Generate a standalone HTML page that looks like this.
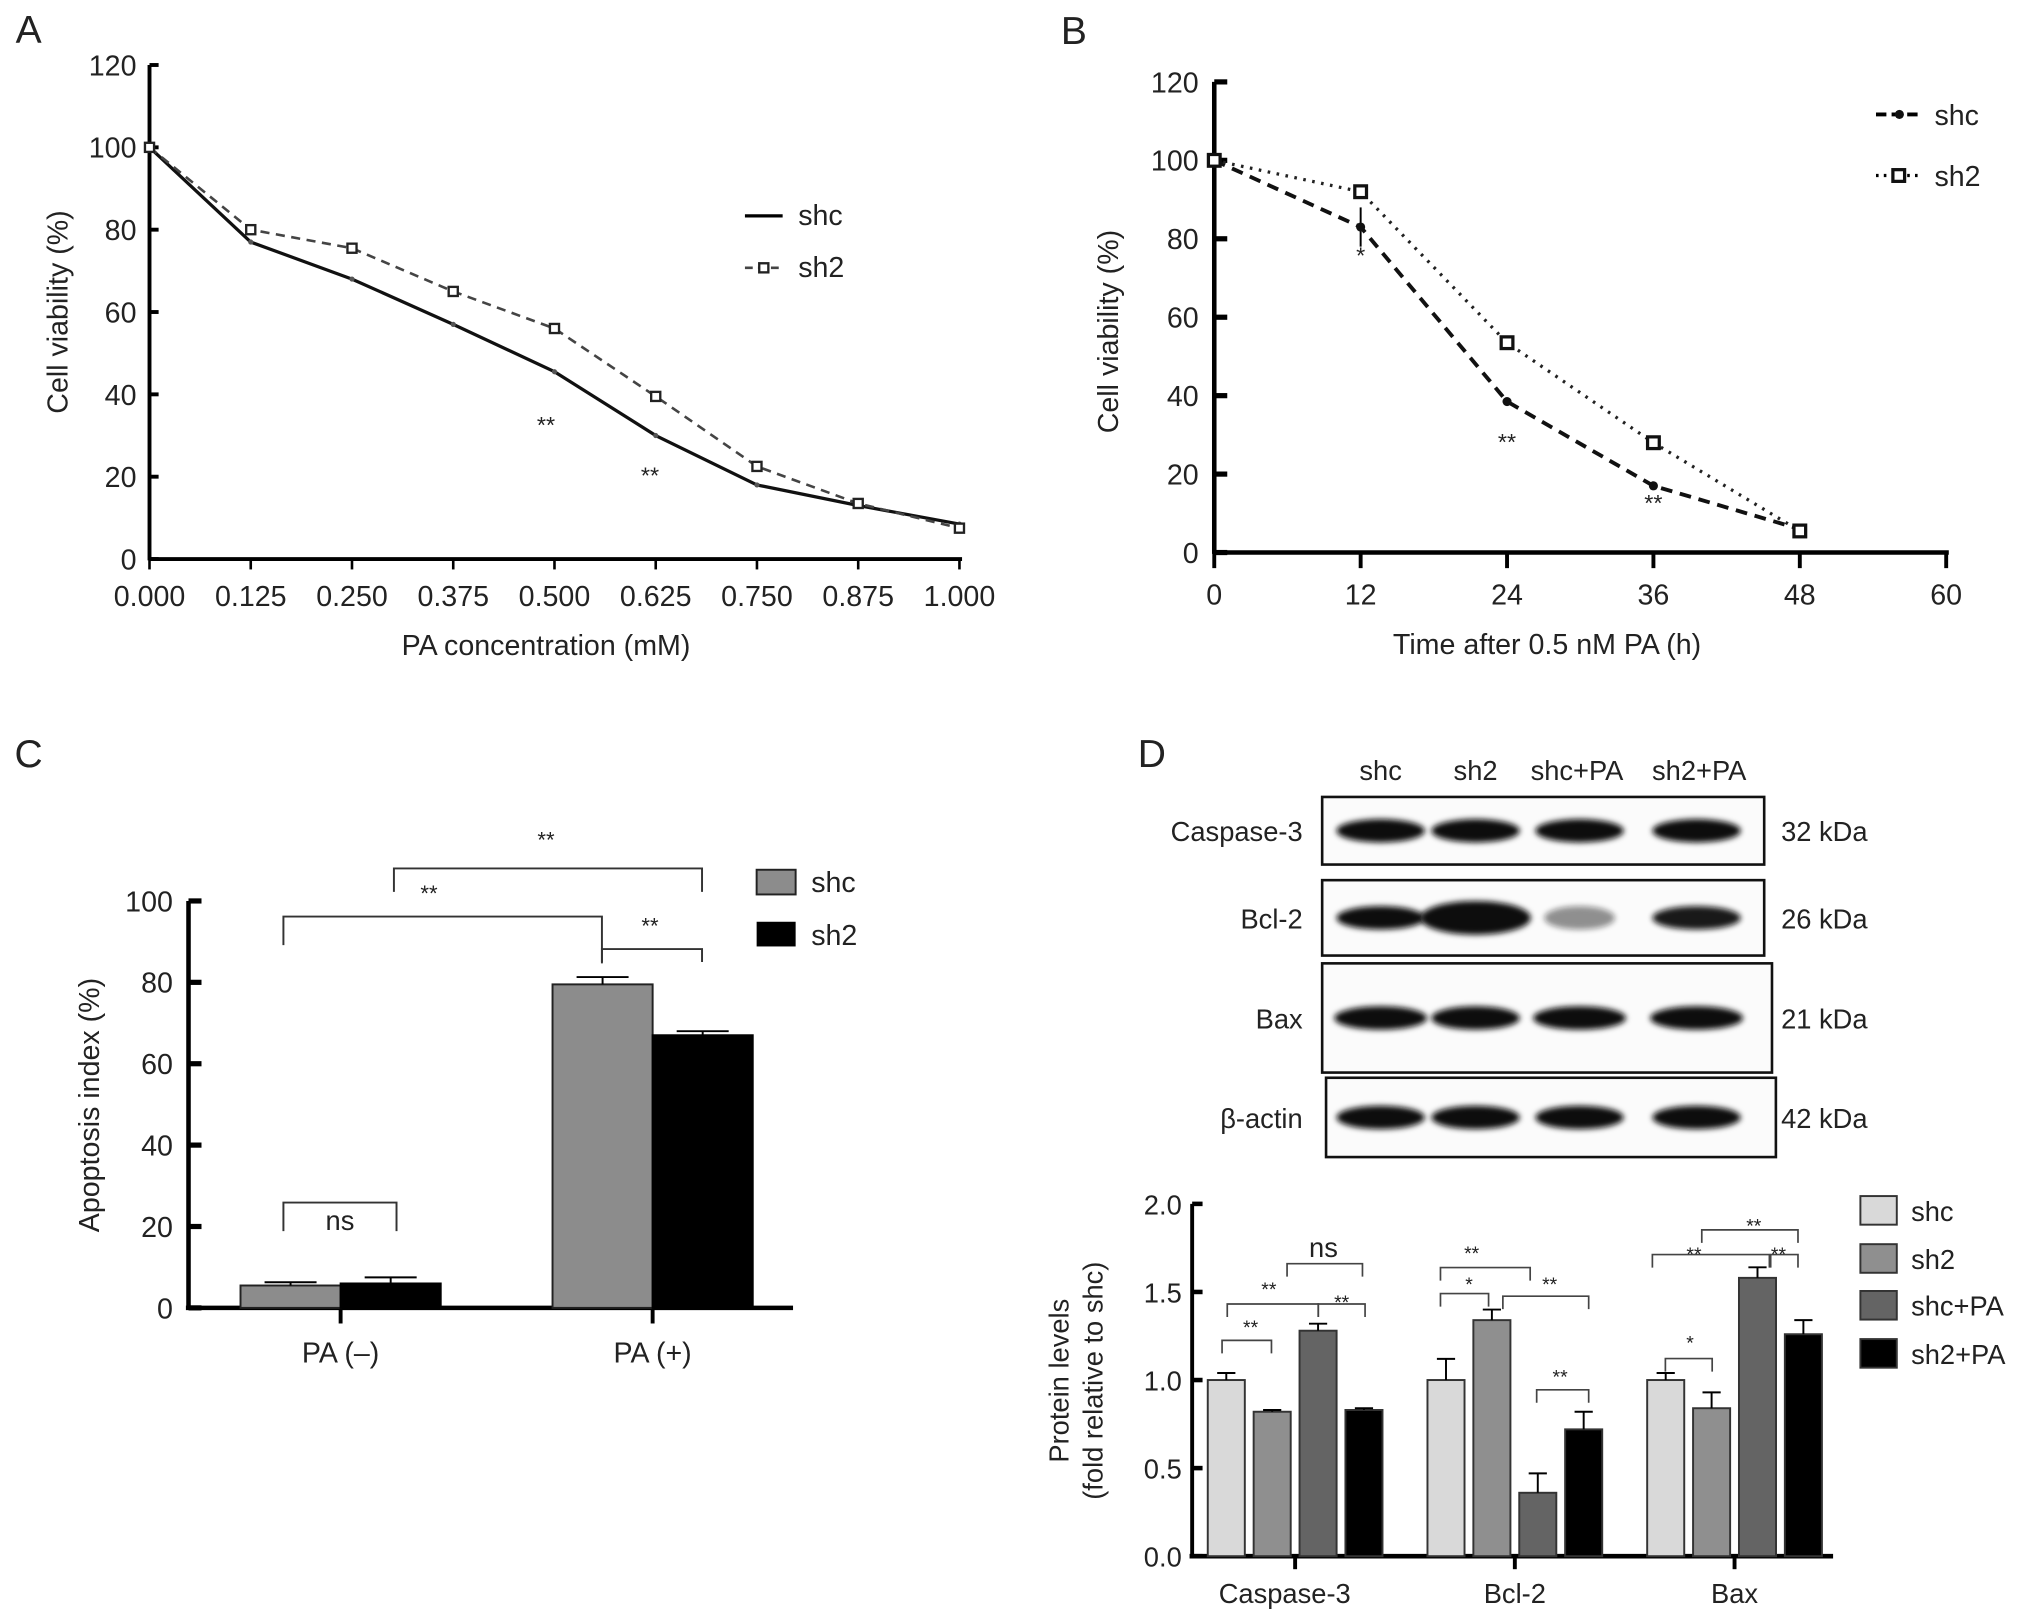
<!DOCTYPE html>
<html><head><meta charset="utf-8"><style>
html,body{margin:0;padding:0;background:#fff}
svg{display:block;font-family:"Liberation Sans",Arial,sans-serif}
</style></head><body>
<svg id="fig" width="2032" height="1616" viewBox="0 0 1563 1243" preserveAspectRatio="none" xmlns="http://www.w3.org/2000/svg">
<defs><filter id="blur" x="-20%" y="-50%" width="140%" height="200%"><feGaussianBlur stdDeviation="2.2"/></filter></defs>
<g id="gA"></g>
<g id="gB"></g>
<g id="gC"></g>
<g id="gD"></g>
</svg>
<script>
// Panel A data
const aX = [0,0.125,0.25,0.375,0.5,0.625,0.75,0.875,1.0];
const aShc = [100,77,68,57,45.5,30,18,13,8.5];
const aSh2 = [100,80,75.5,65,56,39.5,22.5,13.5,7.5];
const aTicksX = ["0.000","0.125","0.250","0.375","0.500","0.625","0.750","0.875","1.000"];
const aTicksY = [0,20,40,60,80,100,120];
// Panel B data
const bX = [0,12,24,36,48];
const bShc = [100,83,38.5,17,6];
const bSh2 = [100,92,53.5,28,5.5];
const bTicksX = [0,12,24,36,48,60];
const bTicksY = [0,20,40,60,80,100,120];
// Panel C data
const cGroups = ["PA (\u2013)","PA (+)"];
const cShc = [5.5,79.5];
const cSh2 = [6,67];
const cErrShc = [0.8,1.8];
const cErrSh2 = [1.5,1];
const cTicksY = [0,20,40,60,80,100];
// Panel D data
const dGroups = ["Caspase-3","Bcl-2","Bax"];
const dSeries = ["shc","sh2","shc+PA","sh2+PA"];
const dShc = [1.0,1.0,1.0];
const dSh2 = [0.82,1.34,0.84];
const dShcPA = [1.28,0.36,1.58];
const dSh2PA = [0.83,0.72,1.26];
const dErrShc = [0.04,0.12,0.04];
const dErrSh2 = [0.01,0.06,0.09];
const dErrShcPA = [0.04,0.11,0.06];
const dErrSh2PA = [0.01,0.1,0.08];
const dTicksY = ["0.0","0.5","1.0","1.5","2.0"];

const NS="http://www.w3.org/2000/svg";
function mk(parent,tag,attrs,text){const e=document.createElementNS(NS,tag);for(const k in attrs)e.setAttribute(k,attrs[k]);if(text!==undefined)e.textContent=text;parent.appendChild(e);return e;}
function txt(p,x,y,s,size,anchor,name,extra){const t=mk(p,'text',Object.assign({x:x,y:y,'font-size':size,'text-anchor':anchor||'middle',fill:'#222'},extra||{}),s);


return t;}
function ln(p,x1,y1,x2,y2,w,name,extra){const l=mk(p,'line',Object.assign({x1:x1,y1:y1,x2:x2,y2:y2,stroke:'#000','stroke-width':w},extra||{}));


return l;}

// ---------- Panel A ----------
(function(){
const g=document.getElementById('gA');
const x0=115,x1=738,y0=430,yT=50;
const sx=v=>x0+(v-0)/(1-0)*(x1-x0);
const sy=v=>y0-(v/120)*(y0-yT);
txt(g,22,33,"A",30,'middle','panel-label-a');
ln(g,x0,y0,x1+2,y0,3,'x-axis');ln(g,x0,y0+1,x0,yT,3,'y-axis');
aTicksY.forEach(v=>{ln(g,x0,sy(v),x0+7,sy(v),3,'y-tick');txt(g,x0-10,sy(v)+8,String(v),22,'end','y-tick-label');});
aX.forEach((v,i)=>{ln(g,sx(v),y0,sx(v),y0+8,2,'x-tick');txt(g,sx(v),y0+36,aTicksX[i],22,'middle','x-tick-label');});
txt(g,420,504,"PA concentration (mM)",22,'middle','x-axis-title');
txt(g,52,240,"Cell viability (%)",22,'middle','y-axis-title',{transform:'rotate(-90 52 240)'});
const p1=mk(g,'polyline',{points:aX.map((v,i)=>sx(v)+','+sy(aShc[i])).join(' '),fill:'none',stroke:'#111','stroke-width':2.5});


const p2=mk(g,'polyline',{points:aX.map((v,i)=>sx(v)+','+sy(aSh2[i])).join(' '),fill:'none',stroke:'#444','stroke-width':2,'stroke-dasharray':'7 5'});


aX.forEach((v,i)=>{const c=mk(g,'circle',{cx:sx(v),cy:sy(aShc[i]),r:2,fill:'#555'});


const r=mk(g,'rect',{x:sx(v)-3.5,y:sy(aSh2[i])-3.5,width:7,height:7,fill:'#fff',stroke:'#222','stroke-width':1.8});

});
txt(g,420,333,"**",18,'middle','sig-star');txt(g,500,372,"**",18,'middle','sig-star');
ln(g,573,166,602,166,2.5,'legend-shc-line');txt(g,614,173,"shc",22,'start','legend-shc-label');
ln(g,573,206,602,206,2,'legend-sh2-line',{'stroke-dasharray':'6 4','stroke':'#444'});
const lr=mk(g,'rect',{x:584,y:202.5,width:7,height:7,fill:'#fff',stroke:'#222','stroke-width':1.8});


txt(g,614,213,"sh2",22,'start','legend-sh2-label');
})();

// ---------- Panel B ----------
(function(){
const g=document.getElementById('gB');
const x0=934,x1=1497,y0=425,yT=63;
const sx=v=>x0+v/60*(x1-x0);
const sy=v=>y0-(v/120)*(y0-yT);
txt(g,826,34,"B",30,'middle','panel-label-b');
ln(g,x0,y0,x1+2,y0,3.5,'x-axis');ln(g,x0,y0+1,x0,yT,3.5,'y-axis');
bTicksY.forEach(v=>{ln(g,x0,sy(v),x0+10,sy(v),4,'y-tick');txt(g,x0-12,sy(v)+8,String(v),22,'end','y-tick-label');});
bTicksX.forEach(v=>{ln(g,sx(v),y0,sx(v),y0+12,3,'x-tick');txt(g,sx(v),y0+40,String(v),22,'middle','x-tick-label');});
txt(g,1190,503,"Time after 0.5 nM PA (h)",22,'middle','x-axis-title');
txt(g,860,255,"Cell viability (%)",22,'middle','y-axis-title',{transform:'rotate(-90 860 255)'});
const p1=mk(g,'polyline',{points:bX.map((v,i)=>sx(v)+','+sy(bShc[i])).join(' '),fill:'none',stroke:'#111','stroke-width':3,'stroke-dasharray':'9 6'});


const p2=mk(g,'polyline',{points:bX.map((v,i)=>sx(v)+','+sy(bSh2[i])).join(' '),fill:'none',stroke:'#222','stroke-width':2.5,'stroke-dasharray':'2 5'});


ln(g,sx(12),sy(bShc[1]+5),sx(12),sy(bShc[1]-5),1.5,'shc-error-bar');
bX.forEach((v,i)=>{const c=mk(g,'circle',{cx:sx(v),cy:sy(bShc[i]),r:3.5,fill:'#111'});


const r=mk(g,'rect',{x:sx(v)-4.5,y:sy(bSh2[i])-4.5,width:9,height:9,fill:'#fff',stroke:'#111','stroke-width':2.5});

});
txt(g,sx(12),sy(bShc[1])+28,"*",18,'middle','sig-star');
txt(g,sx(24),346,"**",18,'middle','sig-star');txt(g,sx(36),393,"**",18,'middle','sig-star');
ln(g,1443,88,1478,88,3,'legend-shc-line',{'stroke-dasharray':'8 4'});
const lc=mk(g,'circle',{cx:1461,cy:88,r:3.5,fill:'#111'});


txt(g,1488,96,"shc",22,'start','legend-shc-label');
ln(g,1443,135,1478,135,2.5,'legend-sh2-line',{'stroke-dasharray':'2 4'});
const lr=mk(g,'rect',{x:1456,y:130.5,width:9,height:9,fill:'#fff',stroke:'#111','stroke-width':2.5});


txt(g,1488,143,"sh2",22,'start','legend-sh2-label');
})();

// ---------- Panel C ----------
(function(){
const g=document.getElementById('gC');
const x0=145,x1=610,y0=1006,yT=693;
const sy=v=>y0-(v/100)*(y0-yT);
const centers=[262,502];const bw=77;
txt(g,22,590,"C",30,'middle','panel-label-c');
ln(g,x0-2,y0,x1,y0,3.5,'x-axis');ln(g,x0,y0+1,x0,yT,3.5,'y-axis');
cTicksY.forEach(v=>{ln(g,x0,sy(v),x0+10,sy(v),4,'y-tick');txt(g,x0-12,sy(v)+8,String(v),22,'end','y-tick-label');});
cGroups.forEach((lab,i)=>{ln(g,centers[i],y0,centers[i],y0+12,3,'x-tick');txt(g,centers[i],y0+42,lab,22,'middle','x-tick-label');});
txt(g,76,850,"Apoptosis index (%)",22,'middle','y-axis-title',{transform:'rotate(-90 76 850)'});
cGroups.forEach((lab,i)=>{
 const c=centers[i];
 const b1=mk(g,'rect',{x:c-bw,y:sy(cShc[i]),width:bw,height:y0-sy(cShc[i]),fill:'#8c8c8c',stroke:'#222','stroke-width':1.5});
 
 
 const b2=mk(g,'rect',{x:c,y:sy(cSh2[i]),width:bw,height:y0-sy(cSh2[i]),fill:'#000',stroke:'#000','stroke-width':1.5});
 
 
 const e1=sy(cShc[i]+cErrShc[i]);ln(g,c-bw/2,sy(cShc[i]),c-bw/2,e1,1.5,'error-bar');ln(g,c-bw/2-20,e1,c-bw/2+20,e1,1.5,'error-cap');
 const e2=sy(cSh2[i]+cErrSh2[i]);ln(g,c+bw/2,sy(cSh2[i]),c+bw/2,e2,1.5,'error-bar');ln(g,c+bw/2-20,e2,c+bw/2+20,e2,1.5,'error-cap');
});
function br(x1,x2,y,dl,dr,label,ty,name){const pl=mk(g,'polyline',{points:`${x1},${y+dl} ${x1},${y} ${x2},${y} ${x2},${y+dr}`,fill:'none',stroke:'#333','stroke-width':1.5});


txt(g,(x1+x2)/2,ty,label,label==='ns'?21:17,'middle',name+'-label');}
br(218,305,925,22,22,"ns",946,'bracket-ns');
br(218,463,705,22,36,"",0,'bracket-shc-pa');txt(g,330,693,"**",17,'middle','sig-star');
br(303,540,668,18,18,"",0,'bracket-sh2-pa');txt(g,420,652,"**",17,'middle','sig-star');
br(463,540,730,10,10,"",0,'bracket-pa-plus');txt(g,500,718,"**",17,'middle','sig-star');
const l1=mk(g,'rect',{x:582,y:669,width:30,height:19,fill:'#8c8c8c',stroke:'#222','stroke-width':1.5});


txt(g,624,686,"shc",22,'start','legend-shc-label');
const l2=mk(g,'rect',{x:582,y:709,width:30,height:19,fill:'#000'});


txt(g,624,727,"sh2",22,'start','legend-sh2-label');
})();

// ---------- Panel D ----------
(function(){
const g=document.getElementById('gD');
txt(g,886,590,"D",30,'middle','panel-label-d');
const lanes=[1062,1135,1218,1305];
const laneLabels=["shc","sh2","shc+PA","sh2+PA"];
laneLabels.forEach((l,i)=>txt(g,i===2?1213:(i===3?1307:lanes[i]),600,l,21,'middle','lane-label'));
const rows=[{n:"Caspase-3",x1:1017,x2:1357,y1:613,y2:665,k:"32 kDa",bw:[1,1,1,1],op:[1,1,1,1]},
{n:"Bcl-2",x1:1017,x2:1357,y1:677,y2:735,k:"26 kDa",bw:[1,1.25,0.8,1],op:[1,1,0.45,0.95]},
{n:"Bax",x1:1017,x2:1363,y1:741,y2:825,k:"21 kDa",bw:[1.05,1,1.05,1.05],op:[1,1,1,1]},
{n:"\u03b2-actin",x1:1020,x2:1366,y1:829,y2:890,k:"42 kDa",bw:[1,1,1,1],op:[1,1,1,1]}];
rows.forEach(r=>{
 const b=mk(g,'rect',{x:r.x1,y:r.y1,width:r.x2-r.x1,height:r.y2-r.y1,fill:'#fbfbfb',stroke:'#111','stroke-width':2});
 
 
 const cy=(r.y1+r.y2)/2;
 lanes.forEach((lx,i)=>{const e=mk(g,'ellipse',{cx:lx+(i===2?-3:0),cy:cy,rx:34*r.bw[i],ry:(i===1&&r.n==="Bcl-2"?13:9),fill:'#0c0c0c',opacity:r.op[i],filter:'url(#blur)'});
 
 });
 txt(g,1002,cy+8,r.n,21,'end','blot-row-label');
 txt(g,1370,cy+8,r.k,21,'start','kda-label');
});
const x0=917,x1=1410,y0=1197,yT=926;
const sy=v=>y0-(v/2)*(y0-yT);
ln(g,x0-2,y0,x1,y0,3.5,'x-axis');ln(g,x0,y0+1,x0,yT,3,'y-axis');
dTicksY.forEach(s=>{const v=parseFloat(s);ln(g,x0,sy(v),x0+8,sy(v),3.5,'y-tick');txt(g,x0-8,sy(v)+8,s,21,'end','y-tick-label');});
txt(g,822,1062,"Protein levels",21,'middle','y-axis-title',{transform:'rotate(-90 822 1062)'});
txt(g,848,1062,"(fold relative to shc)",21,'middle','y-axis-title',{transform:'rotate(-90 848 1062)'});
const vals=[dShc,dSh2,dShcPA,dSh2PA];const errs=[dErrShc,dErrSh2,dErrShcPA,dErrSh2PA];
const cols=['#d9d9d9','#8f8f8f','#646464','#000'];
const gStart=[929,1098,1267];const step=35.3,bw=28.5;
dGroups.forEach((gn,gi)=>{
 const gc=gStart[gi]+1.5*step+bw/2;
 ln(g,gc,y0,gc,y0+10,3,'x-tick');txt(g,gc-8*(gi===0?1:0),y0+36,gn,21,'middle','x-tick-label');
 vals.forEach((arr,si)=>{const bx=gStart[gi]+si*step;const v=arr[gi];
  const r=mk(g,'rect',{x:bx,y:sy(v),width:bw,height:y0-sy(v),fill:cols[si],stroke:'#333','stroke-width':1.5});
  
  
  const ey=sy(v+errs[si][gi]);ln(g,bx+bw/2,sy(v),bx+bw/2,ey,1.5,'error-bar');ln(g,bx+bw/2-7,ey,bx+bw/2+7,ey,1.5,'error-cap');});
});
function br(x1,x2,y,d,label,tx,ty){const pl=mk(g,'polyline',{points:`${x1},${y+d} ${x1},${y} ${x2},${y} ${x2},${y+d}`,fill:'none',stroke:'#444','stroke-width':1.3});


txt(g,tx,ty,label,label==='ns'?21:15,'middle','sig-label');}
br(940,978,1031,10,"**",962,1026);
br(944,1014,1003,10,"**",976,997);
br(1014,1050,1003,10,"**",1032,1007);
br(990,1048,972,10,"ns",1018,967);
br(1108,1177,975,10,"**",1132,969);
br(1108,1145,995,10,"*",1130,993);
br(1156,1222,997,10,"**",1192,993);
br(1182,1222,1069,10,"**",1200,1064);
br(1281,1317,1045,10,"*",1300,1038);
br(1271,1361,965,10,"**",1303,970);
br(1309,1383,946,10,"**",1349,948);
br(1362,1383,965,10,"**",1368,970);
const legY=[931,968,1004,1041];
dSeries.forEach((s,i)=>{const r=mk(g,'rect',{x:1431,y:legY[i]-11,width:28,height:22,fill:cols[i],stroke:'#333','stroke-width':1.5});


txt(g,1470,legY[i]+8,s,21,'start','legend-label');});
})();
</script>
</body></html>
